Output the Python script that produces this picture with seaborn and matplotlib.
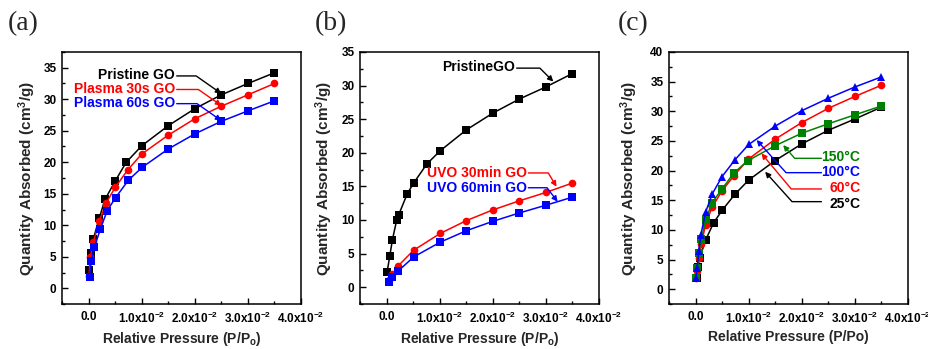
import matplotlib
matplotlib.use("Agg")
import matplotlib.pyplot as plt
import seaborn as sns
from matplotlib.ticker import AutoMinorLocator, FixedLocator

sns.set_theme(style="ticks")
plt.rcParams['font.family'] = ['Liberation Sans', 'DejaVu Sans']
plt.rcParams['font.weight'] = 'bold'
plt.rcParams['mathtext.default'] = 'regular'

# ---------------- data ----------------
# (a) plasma treatment
a_pristine_x = [0.00015, 0.0004, 0.0009, 0.002, 0.0031, 0.005, 0.0071, 0.01, 0.015, 0.02, 0.025, 0.03, 0.035]
a_pristine_y = [2.9, 5.6, 7.8, 11.1, 14.1, 17.0, 20.0, 22.6, 25.8, 28.5, 30.7, 32.5, 34.2]
a_p30_x = [0.0001, 0.0003, 0.0009, 0.002, 0.0033, 0.005, 0.0074, 0.01, 0.015, 0.02, 0.025, 0.03, 0.035]
a_p30_y = [1.9, 4.9, 7.3, 10.6, 13.5, 16.0, 18.8, 21.3, 24.3, 26.9, 28.9, 30.7, 32.5]
a_p60_x = [0.0002, 0.0005, 0.0011, 0.0022, 0.0035, 0.0051, 0.0075, 0.0101, 0.015, 0.02, 0.025, 0.03, 0.035]
a_p60_y = [1.8, 4.3, 6.5, 9.35, 12.3, 14.4, 17.15, 19.2, 22.1, 24.5, 26.5, 28.15, 29.75]

# (b) UVO treatment
b_pristine_x = [0.0001, 0.0006, 0.0011, 0.0019, 0.0023, 0.0039, 0.0051, 0.0076, 0.0101, 0.015, 0.02, 0.025, 0.03, 0.035]
b_pristine_y = [2.25, 4.6, 7.05, 9.95, 10.8, 13.9, 15.5, 18.35, 20.3, 23.4, 25.9, 28.0, 29.8, 31.8]
b_uvo30_x = [0.0005, 0.0011, 0.0021, 0.0051, 0.0101, 0.015, 0.02, 0.025, 0.03, 0.035]
b_uvo30_y = [1.1, 1.9, 3.1, 5.5, 8.0, 9.9, 11.5, 12.85, 14.1, 15.5]
b_uvo60_x = [0.0005, 0.0011, 0.0021, 0.0051, 0.0101, 0.015, 0.02, 0.025, 0.03, 0.035]
b_uvo60_y = [0.8, 1.5, 2.35, 4.5, 6.7, 8.4, 9.8, 11.05, 12.2, 13.4]

# (c) temperature
c_25_x = [0.0002, 0.0004, 0.0008, 0.0019, 0.0034, 0.005, 0.0074, 0.01, 0.015, 0.02, 0.025, 0.03, 0.035]
c_25_y = [1.9, 3.8, 5.3, 8.3, 11.2, 13.3, 16.0, 18.4, 21.7, 24.5, 26.8, 28.7, 30.7]
c_60_x = [0.0001, 0.0003, 0.0006, 0.0011, 0.0019, 0.0031, 0.005, 0.0072, 0.0099, 0.015, 0.02, 0.025, 0.03, 0.035]
c_60_y = [1.9, 3.0, 5.2, 7.7, 10.9, 13.8, 16.6, 19.1, 21.9, 25.3, 28.1, 30.5, 32.5, 34.4]
c_100_x = [0.0001, 0.0003, 0.0006, 0.001, 0.0019, 0.0031, 0.005, 0.0074, 0.01, 0.015, 0.02, 0.025, 0.03, 0.035]
c_100_y = [1.9, 3.6, 6.4, 9.2, 13.0, 16.0, 19.0, 21.8, 24.4, 27.5, 30.1, 32.2, 34.1, 35.8]
c_150_x = [0.0001, 0.0003, 0.0006, 0.0011, 0.0019, 0.0031, 0.005, 0.0072, 0.0099, 0.015, 0.02, 0.025, 0.03, 0.035]
c_150_y = [1.85, 3.6, 6.1, 8.5, 11.6, 14.6, 16.9, 19.6, 21.7, 24.2, 26.3, 27.9, 29.4, 30.9]

x_ticks = [0.0, 0.01, 0.02, 0.03, 0.04]
x_tick_labels = ['0.0', '1.0x10$^{-2}$', '2.0x10$^{-2}$', '3.0x10$^{-2}$', '4.0x10$^{-2}$']
ylabel = 'Quantity Absorbed (cm$^{3}$/g)'
xlabels = ['Relative Pressure (P/P$_{o}$)', 'Relative Pressure (P/P$_{o}$)', 'Relative Pressure (P/Po)']
panel_labels = ['(a)', '(b)', '(c)']

BLACK, RED, BLUE, GREEN = '#000000', '#ff0000', '#0000ff', '#008000'

W, H = 929, 349
fig = plt.figure(figsize=(W / 100, H / 100), dpi=100)

def px_axes(left, right, top, bottom):
    return fig.add_axes([left / W, 1 - bottom / H, (right - left) / W, (bottom - top) / H])

axA = px_axes(62, 301, 52, 304)
axB = px_axes(360, 599, 52, 304)
axC = px_axes(669, 908, 52, 304)

def series(ax, x, y, color, marker):
    sns.lineplot(x=x, y=y, ax=ax, color=color, marker=marker, markersize=5.5,
                 markeredgewidth=0, linewidth=1.1, sort=False, estimator=None)

series(axA, a_pristine_x, a_pristine_y, BLACK, 's')
series(axA, a_p30_x, a_p30_y, RED, 'o')
series(axA, a_p60_x, a_p60_y, BLUE, 's')

series(axB, b_pristine_x, b_pristine_y, BLACK, 's')
series(axB, b_uvo30_x, b_uvo30_y, RED, 'o')
series(axB, b_uvo60_x, b_uvo60_y, BLUE, 's')

series(axC, c_25_x, c_25_y, BLACK, 's')
series(axC, c_60_x, c_60_y, RED, 'o')
series(axC, c_150_x, c_150_y, GREEN, 's')
series(axC, c_100_x, c_100_y, BLUE, '^')

ylims = [(-2.5, 37.5), (-2.5, 35), (-2.5, 40)]
yticks = [list(range(0, 36, 5)), list(range(0, 36, 5)), list(range(0, 41, 5))]
ylab_x = [-0.10, -0.105, -0.121]

for i, ax in enumerate([axA, axB, axC]):
    ax.set_xlim(-0.005, 0.04)
    ax.set_ylim(*ylims[i])
    ax.xaxis.set_major_locator(FixedLocator(x_ticks))
    ax.set_xticklabels(x_tick_labels)
    ax.set_yticks(yticks[i])
    ax.set_yticklabels([str(v) for v in yticks[i]])
    ax.xaxis.set_minor_locator(AutoMinorLocator(2))
    ax.yaxis.set_minor_locator(AutoMinorLocator(2))
    ax.tick_params(which='both', direction='in', top=False, right=False, width=1.0, colors='black')
    ax.tick_params(which='major', length=4.5)
    ax.tick_params(which='minor', length=2.5)
    ax.tick_params(axis='x', which='major', pad=5, labelsize=8.5)
    ax.tick_params(axis='y', which='major', pad=4, labelsize=8.5)
    for lab in ax.get_xticklabels() + ax.get_yticklabels():
        lab.set_fontweight('bold')
    for sp in ax.spines.values():
        sp.set_linewidth(1.1)
        sp.set_color('black')
    ax.set_xlabel(xlabels[i], fontsize=10, fontweight='bold')
    ax.set_ylabel(ylabel, fontsize=11, fontweight='bold')
    ax.xaxis.set_label_coords(0.5, -0.105)
    ax.yaxis.set_label_coords(ylab_x[i], 0.5)

def leader(ax, text, color, text_xy, ha, start_xy, tip_xy, angleB):
    ax.text(text_xy[0], text_xy[1], text, color=color, ha=ha, va='center',
            fontsize=10, fontweight='bold')
    ax.annotate('', xy=tip_xy, xytext=start_xy,
                arrowprops=dict(arrowstyle='-|>', color=color, lw=1.0,
                                connectionstyle=f'angle,angleA=0,angleB={angleB},rad=0',
                                shrinkA=0, shrinkB=0, mutation_scale=8))

# (a)
leader(axA, 'Pristine GO', BLACK, (0.0163, 33.85), 'right', (0.0166, 33.7), (0.0250, 30.9), -35)
leader(axA, 'Plasma 30s GO', RED, (0.0163, 31.6), 'right', (0.0166, 31.55), (0.0250, 29.0), -35)
leader(axA, 'Plasma 60s GO', BLUE, (0.0163, 29.35), 'right', (0.0166, 29.3), (0.0250, 26.6), -35)
# (b)
leader(axB, 'PristineGO', BLACK, (0.0242, 32.75), 'right', (0.0245, 32.6), (0.0314, 30.6), -45)
leader(axB, 'UVO 30min GO', RED, (0.0264, 17.04), 'right', (0.0267, 17.0), (0.0320, 14.96), -59)
leader(axB, 'UVO 60min GO', BLUE, (0.0264, 14.8), 'right', (0.0267, 14.8), (0.0322, 12.72), -53)
# (c)
leader(axC, '150°C', GREEN, (0.0310, 22.34), 'right', (0.0237, 22.07), (0.0165, 24.3), 131)
leader(axC, '100°C', BLUE, (0.0310, 19.8), 'right', (0.0237, 19.65), (0.0115, 25.16), 132)
leader(axC, '60°C', RED, (0.0310, 17.0), 'right', (0.0237, 16.9), (0.0124, 22.9), 130)
leader(axC, '25°C', BLACK, (0.0310, 14.37), 'right', (0.0237, 14.76), (0.0131, 19.8), 132)

for lab, xpx in zip(panel_labels, [8, 315, 618]):
    fig.text(xpx / W, 1 - 24 / H, lab, ha='left', va='center', fontsize=20,
             family='Liberation Serif', fontweight='normal')

fig.savefig('out.png', dpi=100)
